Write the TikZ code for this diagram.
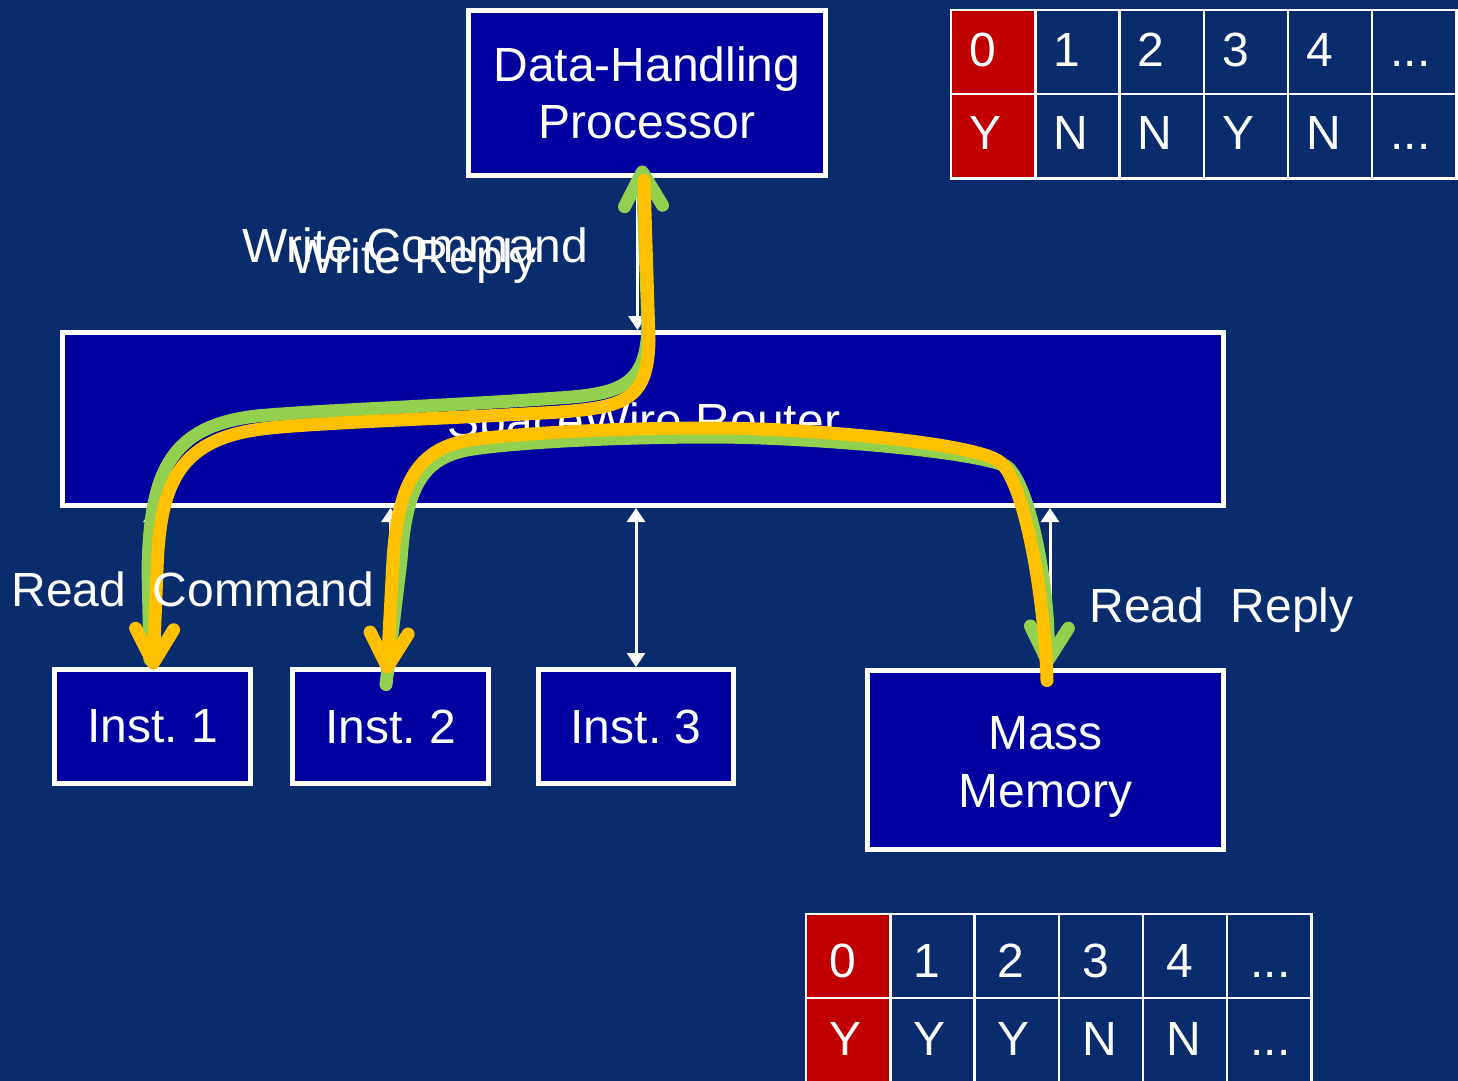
\documentclass[tikz,border=0pt]{standalone}
\usepackage{fontspec}
\setmainfont{Liberation Sans}
\usetikzlibrary{arrows.meta,calc}
\definecolor{bgnavy}{HTML}{082C6C}
\definecolor{boxblue}{HTML}{0000A0}
\definecolor{cellred}{HTML}{C00000}
\definecolor{pathgreen}{HTML}{92D050}
\definecolor{pathyellow}{HTML}{FFC000}
\newcommand\threedots{...}
\tikzset{
  bigfont/.style={font=\fontsize{24}{28.8}\selectfont\frenchspacing},
  unit/.style={draw=white, line width=2.5pt, fill=boxblue, text=white, bigfont, align=center, inner sep=0pt},
  lbl/.style={text=white, bigfont, anchor=base west, inner sep=0pt},
  link/.style={white, line width=1.5pt, {Triangle[length=7pt,width=9pt]}-{Triangle[length=7pt,width=9pt]}},
  flow/.style={line width=6.5pt, line cap=round, line join=round},
  barb/.style={-{Straight Barb[length=17pt,width=19pt,round]}},
  cell/.style={draw=white, line width=1.2pt, minimum width=42.1pt, minimum height=42.2pt, inner sep=0pt, anchor=north west},
  celltxt/.style={text=white, bigfont, anchor=base west, inner sep=0pt}
}
\begin{document}
\begin{tikzpicture}[x=0.5pt, y=-0.5pt]
\useasboundingbox (0,0) rectangle (1458,1081);
\fill[bgnavy] (0,0) rectangle (1458,1081);

% units
\node[unit, minimum width=178.5pt, minimum height=82.5pt] (dhp) at (647,93) {Data-Handling\\Processor};
\node[unit, minimum width=580.5pt, minimum height=86.5pt] (router) at (643,419) {};
\node[unit, minimum width=98pt, minimum height=57pt] (inst1) at (152.5,726.5) {Inst. 1};
\node[unit, minimum width=98pt, minimum height=57pt] (inst2) at (390.5,726.5) {Inst. 2};
\node[unit, minimum width=97.5pt, minimum height=57pt] (inst3) at (636,726.5) {Inst. 3};
\node[unit, minimum width=178pt, minimum height=89.5pt] (mm) at (1045.5,760) {\rule{0pt}{23.5pt}Mass\\Memory};

% physical links
\draw[link] ($(dhp.south)+(-9.5,0)$) -- ($(router.north)+(-5.5,0)$);
\draw[link] (router.south -| inst1.north) -- (inst1.north);
\draw[link] (router.south -| inst2.north) -- (inst2.north);
\draw[link] (router.south -| inst3.north) -- (inst3.north);
\draw[link] ($(router.south -| mm.north)+(4.5,0)$) -- ($(mm.north)+(4.5,0)$);

\node[lbl, anchor=base] (routertxt) at (644,437) {SpaceWire Router};

% transaction flows
\draw[flow, pathgreen, barb] ($(inst1.north)+(-2.5,-7.5)$) -- (148,570)
  .. controls (150,470) and (170,422) .. (268,415)
  .. controls (330,410) and (460,405) .. (558,398)
  .. controls (622,394) and (647,385) .. (648,325)
  -- ($(dhp.south)+(-5,-12.5)$);
\draw[flow, pathgreen, barb] ($(inst2.north)+(-4.5,17.5)$) -- (401,560)
  .. controls (406,482) and (426,456) .. (473,449)
  .. controls (521,442) and (620,437) .. (713,437)
  .. controls (800,437) and (969,450) .. (1006,466)
  .. controls (1031,483) and (1051,600) .. ($(mm.north)+(1.5,-0.5)$);
\draw[flow, pathyellow, barb] ($(dhp.south)+(-3,2.5)$) -- (649,340)
  .. controls (648,400) and (625,407) .. (560,412)
  .. controls (460,418) and (330,422) .. (270,428)
  .. controls (180,437) and (160,480) .. (157,570)
  -- ($(inst1.north)+(0.5,2.5)$);
\draw[flow, pathyellow, barb] ($(mm.north)+(1.5,12.5)$)
  .. controls (1045,600) and (1025,482) .. (1000,462)
  .. controls (975,442) and (800,428) .. (713,428)
  .. controls (620,428) and (520,433) .. (470,440)
  .. controls (420,448) and (398,480) .. (393,560)
  -- ($(inst2.north)+(-3.5,6.5)$);

% transaction labels
\node[lbl] (wcmd) at (242,263) {Write Command};
\node[lbl] (wrep) at (290,273) {Write Reply};
\node[lbl] (rcmd) at (11,606) {Read\ \ Command};
\node[lbl] (rrep) at (1089,622) {Read\ \ Reply};

% status tables
\foreach \hd/\vl [count=\k from 0] in {0/Y,1/N,2/N,3/Y,4/N,\threedots/\threedots} {
  \ifnum\k=0 \def\cfill{cellred}\else\def\cfill{bgnavy}\fi
  \node[cell, fill=\cfill] (ta\k) at ({950+84.2*\k},9) {};
  \node[cell, fill=\cfill] (tb\k) at ({950+84.2*\k},93) {};
  \node[celltxt] (tta\k) at ($(ta\k.north west)+(19,58)$) {\hd};
  \node[celltxt] (ttb\k) at ($(tb\k.north west)+(19,57)$) {\vl};
}
\foreach \hd/\vl [count=\k from 0] in {0/Y,1/Y,2/Y,3/N,4/N,\threedots/\threedots} {
  \ifnum\k=0 \def\cfill{cellred}\else\def\cfill{bgnavy}\fi
  \node[cell, fill=\cfill] (ba\k) at ({805+84.2*\k},913) {};
  \node[cell, fill=\cfill] (bb\k) at ({805+84.2*\k},997) {};
  \node[celltxt] (bta\k) at ($(ba\k.north west)+(24,64)$) {\hd};
  \node[celltxt] (btb\k) at ($(bb\k.north west)+(24,58)$) {\vl};
}
\end{tikzpicture}
\end{document}
